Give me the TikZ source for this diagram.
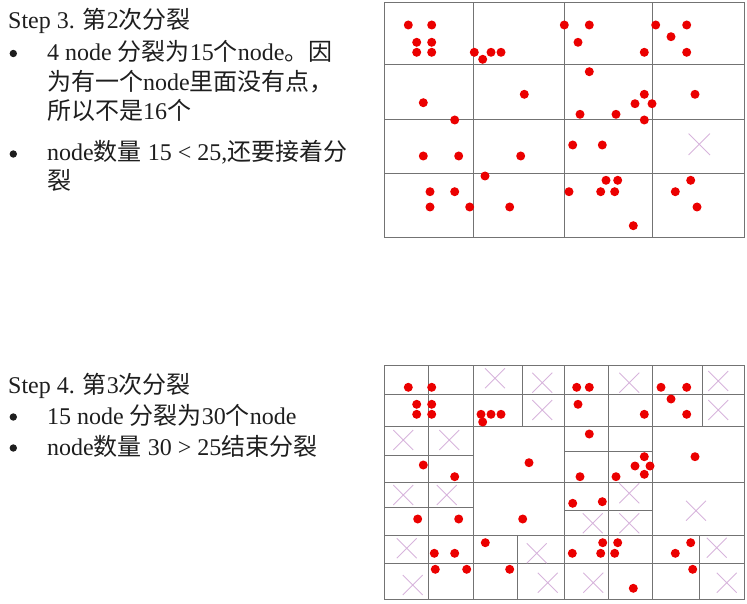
\documentclass[tikz,border=0pt]{standalone}
\usepackage{fontspec}
\setmainfont{Liberation Serif}
\newfontfamily\cjk{Noto Sans CJK SC}
\newcommand\zh[1]{{\cjk #1}}
\usetikzlibrary{shapes.misc}
\definecolor{gridcol}{RGB}{115,115,115}
\definecolor{dotred}{RGB}{235,0,0}
\definecolor{xcol}{RGB}{215,180,220}
\definecolor{txt}{RGB}{30,30,30}
\begin{document}
\begin{tikzpicture}[x=1pt,y=-1pt,
  gridline/.style={draw=gridcol,line width=1pt},
  reddot/.style={circle,fill=dotred,inner sep=0pt,minimum size=9pt},
  emptyx/.style={cross out,draw=xcol,line width=0.9pt,inner sep=0pt,minimum size=19pt},
  bodytext/.style={anchor=base west,inner sep=0pt,text=txt,font=\fontsize{24}{30}\selectfont},
  bulletmark/.style={circle,fill=txt,inner sep=0pt,minimum size=7.4pt}]
\useasboundingbox (0,0) rectangle (747,604);
% ---------- texts ----------
\node[bodytext] (s3) at (8,28.5) {Step 3. \zh{第}2\zh{次分裂}};
\node[bulletmark] (b1) at (13.3,53.5) {};
\node[bodytext] (l1) at (47,60.5) {4 node \zh{分裂为}15\zh{个}node\zh{。因}};
\node[bodytext] (l2) at (47,90.5) {\zh{为有一个}node\zh{里面没有点，}};
\node[bodytext] (l3) at (47,120) {\zh{所以不是}16\zh{个}};
\node[bulletmark] (b2) at (13.3,154) {};
\node[bodytext] (l4) at (47,161) {node\zh{数量} 15 < 25,\zh{还要接着分}};
\node[bodytext] (l5) at (47,190) {\zh{裂}};
\node[bodytext] (s4) at (8,393) {Step 4. \zh{第}3\zh{次分裂}};
\node[bulletmark] (b3) at (13.3,417) {};
\node[bodytext] (m1) at (47,424) {15 node \zh{分裂为}30\zh{个}node};
\node[bulletmark] (b4) at (13.3,448) {};
\node[bodytext] (m2) at (47,455) {node\zh{数量} 30 > 25\zh{结束分裂}};
% ---------- top grid ----------
\draw[gridline] (384,3) rectangle (744,238);
\foreach \x in {473.3,564.3,652.7} \draw[gridline] (\x,3) -- (\x,238);
\foreach \y in {65,120,173.3} \draw[gridline] (384,\y) -- (744,\y);
\foreach \x/\y in {408.3/25,431.7/25,416.7/42.3,431.7/42.3,416.7/52.3,431.7/52.3,
  474.3/52.3,482.7/59.3,491/52.3,501/52.3,
  564.3/25,589.3/25,578/42.3,644.3/52.3,
  655.7/25,686.7/25,671/36.7,686.7/52.3,
  589.3/71.7,423.3/102.7,524.3/94.3,644.3/94.3,635/103.7,652/103.7,695/94.3,580/114.3,616/114.3,644.3/120,454.7/120,
  423.3/156,458.7/156,520.7/156,572.7/145,602.3/145,
  485/176,430/191.7,454.7/191.7,430/207,469.7/207,509.7/207,569/191.7,606/180.3,617.7/180.3,600.7/191.7,614.7/191.7,633.3/225.7,690.7/180.3,675.3/191.7,697/207}
  \node[reddot] at (\x,\y) {};
\node[emptyx,minimum size=20.5pt] at (699.3,144.3) {};
% ---------- bottom grid ----------
\draw[gridline] (384,365) rectangle (744,599.3);
\foreach \x in {473.3,564.3,652.7} \draw[gridline] (\x,365) -- (\x,599.3);
\foreach \y in {426.7,482.7,535.7} \draw[gridline] (384,\y) -- (744,\y);
% row 1
\draw[gridline] (384,394.3) -- (744,394.3);
\foreach \x in {428.3,522.3,608.3,702.7} \draw[gridline] (\x,365) -- (\x,426.7);
% row 2
\draw[gridline] (428.3,426.7) -- (428.3,482.7);
\draw[gridline] (384,455) -- (473.3,455);
\draw[gridline] (564.3,451.7) -- (652.7,451.7);
\draw[gridline] (608.3,426.7) -- (608.3,482.7);
% row 3
\draw[gridline] (428.3,482.7) -- (428.3,535.7);
\draw[gridline] (384,507.3) -- (473.3,507.3);
\draw[gridline] (564.3,510.7) -- (652.7,510.7);
\draw[gridline] (608.3,482.7) -- (608.3,535.7);
% row 4
\draw[gridline] (384,563.3) -- (744,563.3);
\foreach \x in {428.3,517.7,608.3,699} \draw[gridline] (\x,535.7) -- (\x,599.3);
\foreach \x/\y in {408.3/387.3,431.7/387.3,416.7/404.3,416.7/414.3,431.7/404.3,431.7/414.3,
  481/414.3,482.7/422,491/414.3,501/414.3,
  576.7/387.3,589.3/387.3,578/404.3,644.3/414.3,
  661/387.3,686.7/387.3,671/399,686.7/414.3,
  423.3/465,454.7/476.7,529/462.7,589.3/434,580/476.7,616/476.7,644.3/456.7,635/466,650/466,644.3/474.3,695/456.7,
  417.7/519,458.7/519,522.7/519,572.7/503.3,602.3/501.7,
  485.3/542.7,434.3/553.3,454.7/553.3,435.3/569.3,466.7/569.3,509.7/569.3,
  572.3/553.3,602.7/542.7,617.7/542.7,600.7/553.3,614.7/553.3,633.3/588.3,
  690.7/542.7,675.3/553.3,692.7/569.3}
  \node[reddot] at (\x,\y) {};
\foreach \x/\y in {495/378.3,542.3/382.7,542.3/410,629.3/382.7,718.3/381,718.3/410,
  403.3/440,449.3/440,403.3/495,446.7/495,629.3/493.3,592.7/523.3,629.3/523.3,696/510.7,
  406.7/548.3,412.7/585,536.7/553.3,547.7/582.7,593.3/582.7,716.7/547.7,726.7/582.7}
  \node[emptyx] at (\x,\y) {};
\end{tikzpicture}
\end{document}
